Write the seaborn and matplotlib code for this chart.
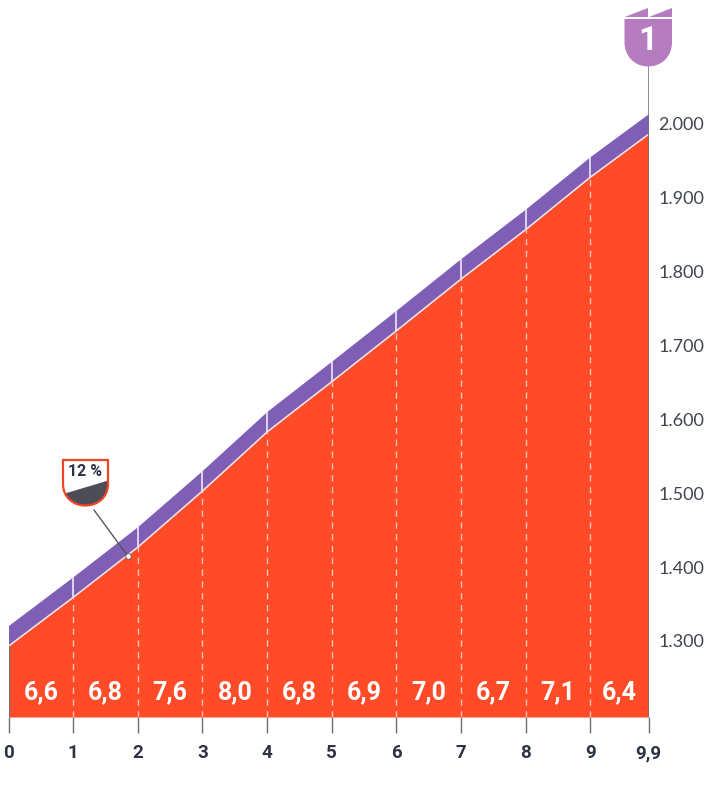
"""Climb profile: 9.9 km, gradient per km."""
import matplotlib
matplotlib.use("Agg")
import matplotlib.pyplot as plt
from matplotlib.patches import PathPatch, Polygon
from matplotlib.path import Path
import pandas as pd
import seaborn as sns

km = [0, 1, 2, 3, 4, 5, 6, 7, 8, 9, 9.9]
altitude = [1293, 1359, 1427, 1503, 1583, 1651, 1720, 1790, 1857, 1928, 1986]
band_height = 28
gradients = ["6,6", "6,8", "7,6", "8,0", "6,8", "6,9", "7,0", "6,7", "7,1", "6,4"]
km_labels = ["0", "1", "2", "3", "4", "5", "6", "7", "8", "9", "9,9"]
alt_ticks = [1300, 1400, 1500, 1600, 1700, 1800, 1900, 2000]
alt_labels = ["1.300", "1.400", "1.500", "1.600", "1.700", "1.800", "1.900", "2.000"]

RED = "#ff4b28"
PURPLE = "#7f5fb5"
BADGE = "#b57cc0"
GREY = "#6f6f75"
DARK = "#2c3345"
BOLD_FONT = ["Roboto", "DejaVu Sans"]

sns.set_theme(style="white")

df = pd.DataFrame({"km": km, "altitude": altitude})
df["top"] = df["altitude"] + band_height

fig = plt.figure(figsize=(7.11, 8), dpi=100)
ax = fig.add_axes([8.5 / 711, 83 / 800, 640 / 711, 651 / 800])

ax.fill_between(df["km"], 1197, df["altitude"], color=RED, lw=0)
ax.fill_between(df["km"], df["altitude"], df["top"], color=PURPLE, lw=0)
sns.lineplot(data=df, x="km", y="altitude", color="#fbe3dc", lw=1.1, ax=ax)

# km separators: dashed in the red part, solid through the band
ax.vlines(df["km"][1:-1], 1197, df["altitude"][1:-1], color="#ffc4b2", lw=1, linestyles=(0, (4.5, 4)))
ax.vlines(df["km"][1:-1], df["altitude"][1:-1], df["top"][1:-1], color="#efe8f6", lw=1.2)
ax.vlines([0], 1197, altitude[0], color=GREY, lw=1)
ax.vlines([km[-1]], 1197, 2078, color=GREY, lw=1.1)

for i, g in enumerate(gradients):
    ax.text((km[i] + km[i + 1]) / 2, 1230, g, color="white", ha="center", va="center",
            fontsize=18, fontweight="bold", family=BOLD_FONT)

ax.set_xlim(0, 9.9)
ax.set_ylim(1197, 2078.5)
sns.despine(ax=ax, left=True, right=True, top=True, bottom=True)
ax.set_xticks(km, km_labels, fontsize=13.5, fontweight="bold", color=DARK, family=BOLD_FONT)
ax.tick_params(axis="x", bottom=True, length=11.5, width=1, color=GREY, pad=8)
ax.yaxis.tick_right()
ax.set_yticks(alt_ticks, alt_labels, fontsize=13, color="#3f444e", family=["Lato", "DejaVu Sans"])
ax.tick_params(axis="y", right=False, length=0, pad=7)
ax.set_xlabel("")
ax.set_ylabel("")
ax.grid(False)
ax.patch.set_alpha(0)

# overlay in pixel units for the two shields
over = fig.add_axes([0, 0, 1, 1])
over.set_xlim(0, 711)
over.set_ylim(800, 0)
over.axis("off")
over.patch.set_alpha(0)


def shield(x0, x1, y0, y1, shoulder):
    mid = (x0 + x1) / 2
    codes = [Path.MOVETO, Path.LINETO, Path.LINETO, Path.CURVE4, Path.CURVE4, Path.CURVE4,
             Path.CURVE4, Path.CURVE4, Path.CURVE4, Path.CLOSEPOLY]
    verts = [(x0, y0), (x1, y0), (x1, shoulder),
             (x1, shoulder + (y1 - shoulder) * 0.6), (mid + (x1 - x0) * 0.28, y1), (mid, y1),
             (mid - (x1 - x0) * 0.28, y1), (x0, shoulder + (y1 - shoulder) * 0.6), (x0, shoulder),
             (x0, y0)]
    return Path(verts, codes)


# finish badge
over.add_patch(PathPatch(shield(624.5, 672, 19, 66.5, 42), fc=BADGE, ec="none"))
over.add_patch(Polygon([(624.5, 17), (648, 8), (648, 17)], fc=BADGE, ec="none"))
over.add_patch(Polygon([(649, 17), (672, 8), (672, 17)], fc=BADGE, ec="none"))
over.text(648, 41, "1", color="white", ha="center", va="center", fontsize=24, fontweight="bold",
          family=BOLD_FONT)

# steepest section badge
path = shield(63, 108, 460, 505.5, 484)
over.add_patch(PathPatch(path, fc="white", ec="none"))
dark = Polygon([(60, 495), (110, 480), (110, 510), (60, 510)], fc="#4c4d57", ec="none")
over.add_patch(dark)
dark.set_clip_path(PathPatch(path, transform=over.transData))
over.add_patch(PathPatch(path, fc="none", ec="#ee4526", lw=1.6))
over.text(85.5, 471.5, "12 %", color=DARK, ha="center", va="center", fontsize=11.5, fontweight="bold",
          family=BOLD_FONT)
over.plot([94, 127], [510, 555], color="#55565f", lw=1)
over.plot([127.5], [555.5], "o", ms=4, mfc="white", mec="#55565f", mew=0.6)

fig.savefig("out.png", dpi=100)
